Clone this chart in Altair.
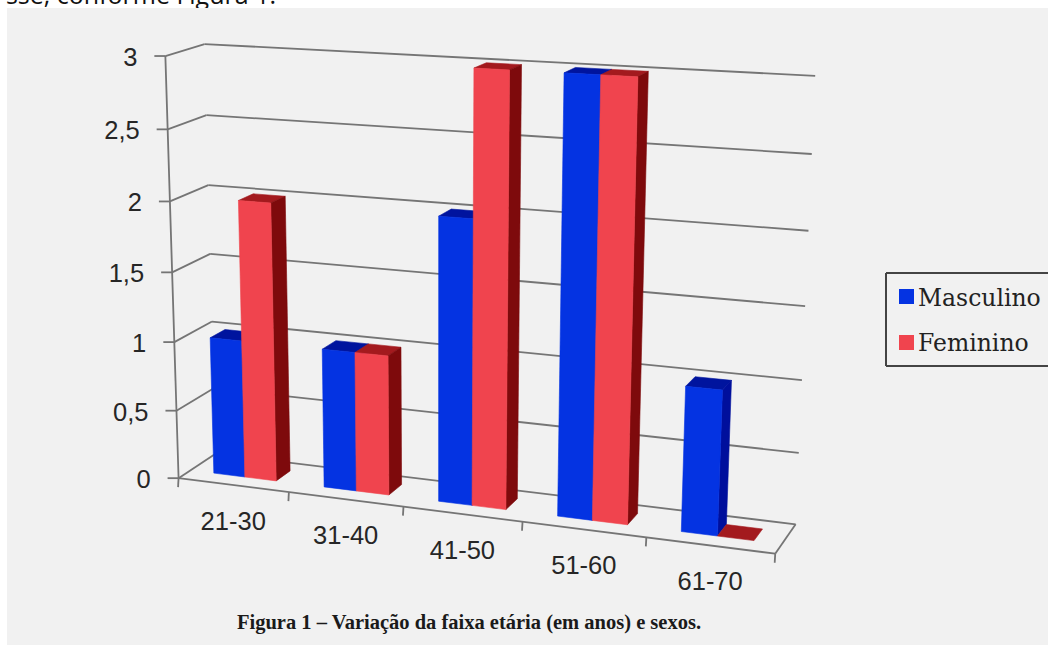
import numpy as np
import pandas as pd
import altair as alt

W, H = 1048, 645

# Chart data
age_groups = ["21-30", "31-40", "41-50", "51-60", "61-70"]
masculino = [1, 1, 2, 3, 1]
feminino = [2, 1, 3, 3, 0]
y_ticks = [0, 0.5, 1, 1.5, 2, 2.5, 3]
y_labels = ["0", "0,5", "1", "1,5", "2", "2,5", "3"]
caption = "Figura 1 \u2013 Varia\u00e7\u00e3o da faixa et\u00e1ria (em anos) e sexos."
running_text = "sse, conforme Figura 1."

# Colours of each bar's faces: front, top, side
BLUE = ("#0433e2", "#00149e", "#000f9c")
RED = ("#f0444e", "#a31a1e", "#7e0a0c")
GRID = "#757575"
PANEL = "#f1f1f1"

# Camera: the box (category, value, depth) seen in perspective, solved from
# the way its corners land on the page.
box = [(0, 0, 0), (5, 0, 0), (5, 0, 1), (0, 0, 1), (0, 3, 0), (0, 3, 1), (5, 3, 1)]
page = [(181, 477), (775, 555), (796, 523), (213, 455), (163, 56), (207, 44), (815, 76)]
rows, rhs = [], []
for (a, b, c), (px, py) in zip(box, page):
    rows.append([a, b, c, 1, 0, 0, 0, 0, -px * a, -px * b, -px * c])
    rhs.append(px)
    rows.append([0, 0, 0, 0, a, b, c, 1, -py * a, -py * b, -py * c])
    rhs.append(py)
# One more constraint: the perspective along the depth axis is mild
rows.append([0] * 10 + [1])
rhs.append(0.12)
P = np.linalg.lstsq(np.array(rows, float), np.array(rhs, float), rcond=None)[0]
P = np.append(P, 1.0).reshape(3, 4)


def project(u, v, w):
    q = P @ np.array([u, v, w, 1.0])
    return float(q[0] / q[2]), float(q[1] / q[2])


polys, lines = [], []
poly_count = 0


def add_poly(corners, color):
    global poly_count
    pid = f"p{poly_count:03d}"
    poly_count += 1
    for k, c in enumerate(list(corners) + [corners[0]]):
        x, y = project(*c)
        polys.append({"pid": pid, "k": k, "x": x, "y": y, "c": color})


def add_line(a, b):
    lid = f"l{len(lines):04d}"
    for k, pt in enumerate((a, b)):
        lines.append({"lid": lid, "k": k, "x": pt[0], "y": pt[1]})


# Walls, floor and axes
for v in y_ticks:
    f, b, r = project(0, v, 0), project(0, v, 1), project(5, v, 1)
    add_line(f, b)
    add_line(b, r)
    add_line((f[0] - 11, f[1]), f)
add_line(project(0, 0, 0), project(0, 3, 0))
add_line(project(0, 0, 0), project(5, 0, 0))
add_line(project(5, 0, 0), project(5, 0, 1))
for i in range(6):
    p = project(i, 0, 0)
    add_line(p, (p[0] - 0.5, p[1] + 9))

# Bars, painted from left to right so each one hides its neighbour's side
BAR_W, BAR_U, Z0, Z1 = 0.285, 0.215, 0.32, 0.72


def add_bar(i, j, value, faces):
    u0 = i + BAR_U + j * BAR_W
    u1 = u0 + BAR_W
    add_poly([(u0, value, Z0), (u1, value, Z0), (u1, value, Z1), (u0, value, Z1)], faces[1])
    if value == 0:
        return
    add_poly([(u1, 0, Z0), (u1, 0, Z1), (u1, value, Z1), (u1, value, Z0)], faces[2])
    add_poly([(u0, 0, Z0), (u1, 0, Z0), (u1, value, Z0), (u0, value, Z0)], faces[0])


for i in range(len(age_groups)):
    add_bar(i, 0, masculino[i], BLUE)
    add_bar(i, 1, feminino[i], RED)

xs = alt.X("x:Q", scale=alt.Scale(domain=[0, W], range=[0, W], nice=False, zero=False), axis=None)
ys = alt.Y("y:Q", scale=alt.Scale(domain=[0, H], range=[0, H], nice=False, zero=False), axis=None)
xs2 = alt.X2("x2:Q")
ys2 = alt.Y2("y2:Q")

# Panel behind the chart, with the end of the running text above it
panel = alt.Chart(pd.DataFrame({"x": [7], "x2": [W], "y": [8], "y2": [H]})).mark_rect(
    color=PANEL, strokeWidth=0
).encode(x=xs, x2=xs2, y=ys, y2=ys2)

top_text = alt.Chart(pd.DataFrame({"x": [276], "y": [3.5], "t": [running_text]})).mark_text(
    font="Open Sans", fontSize=25, align="right", baseline="alphabetic", color="#111111"
).encode(x=xs, y=ys, text="t:N")

grid = alt.Chart(pd.DataFrame(lines)).mark_line(strokeWidth=1.8, color=GRID, clip=False).encode(
    x=xs, y=ys, detail="lid:N", order="k:Q"
)

bars = alt.Chart(pd.DataFrame(polys)).mark_line(strokeWidth=0.6, clip=False).encode(
    x=xs, y=ys, detail="pid:N", order="k:Q",
    fill=alt.Fill("c:N", scale=None, legend=None),
    stroke=alt.Stroke("c:N", scale=None, legend=None),
)

# Tick labels
ylab = []
for v, t in zip(y_ticks, y_labels):
    p = project(0, v, 0)
    ylab.append({"x": p[0] - 28, "y": p[1] + 2, "t": t})
y_text = alt.Chart(pd.DataFrame(ylab)).mark_text(
    font="Liberation Sans", fontSize=25.5, align="right", baseline="middle", color="#262626"
).encode(x=xs, y=ys, text="t:N")

xlab = []
for i, t in enumerate(age_groups):
    p = project(i + 0.5, 0, 0)
    xlab.append({"x": p[0], "y": p[1] + 37, "t": t})
x_text = alt.Chart(pd.DataFrame(xlab)).mark_text(
    font="Liberation Sans", fontSize=25.5, align="center", baseline="middle", color="#262626"
).encode(x=xs, y=ys, text="t:N")

caption_text = alt.Chart(pd.DataFrame({"x": [237], "y": [629], "t": [caption]})).mark_text(
    font="Liberation Serif", fontSize=20.5, fontWeight="bold", align="left", baseline="alphabetic", color="#1a1a1a"
).encode(x=xs, y=ys, text="t:N")

# Legend: frame open on the page edge, swatches and names
legend_h = alt.Chart(pd.DataFrame({"x": [886, 886], "x2": [W, W], "y": [273, 366]})).mark_rule(
    color="#444444", strokeWidth=2
).encode(x=xs, x2=xs2, y=ys)
legend_v = alt.Chart(pd.DataFrame({"x": [886], "y": [273], "y2": [366]})).mark_rule(
    color="#444444", strokeWidth=2
).encode(x=xs, y=ys, y2=ys2)
legend_swatches = alt.Chart(pd.DataFrame({
    "x": [899, 899], "x2": [914, 914], "y": [289, 335], "y2": [304, 350], "c": [BLUE[0], RED[0]]
})).mark_rect(strokeWidth=0).encode(
    x=xs, x2=xs2, y=ys, y2=ys2, fill=alt.Fill("c:N", scale=None, legend=None)
)
legend_text = alt.Chart(pd.DataFrame({
    "x": [918, 918], "y": [306, 351], "t": ["Masculino", "Feminino"]
})).mark_text(
    font="DejaVu Serif", fontSize=23.5, align="left", baseline="alphabetic", color="#222222"
).encode(x=xs, y=ys, text="t:N")

chart = alt.layer(
    top_text, panel, grid, bars, y_text, x_text, caption_text,
    legend_h, legend_v, legend_swatches, legend_text,
).properties(
    width=W, height=H, padding=0, autosize=alt.AutoSizeParams(type="none"),
    background="#ffffff",
).configure_view(stroke=None)

chart.save("out.html", embed_options={"renderer": "svg", "actions": False})
